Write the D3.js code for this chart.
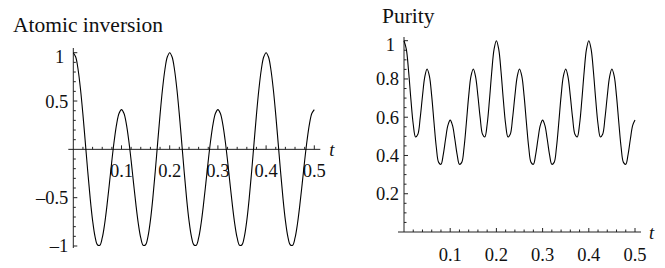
<!DOCTYPE html>
<html>
<head>
<meta charset="utf-8">
<script src="https://cdn.jsdelivr.net/npm/d3@7"></script>
<style>
  body { margin: 0; background: #fff; }
  svg text { font-family: "Liberation Serif", "Times New Roman", serif; fill: #111; }
</style>
</head>
<body>
<svg id="chart" width="665" height="268"></svg>
<script>
// sample spacing in t for both curves (0 .. 0.5)
const T_STEP = 0.005;

// atomic inversion
const inversion = [
  1, 0.955, 0.824, 0.619, 0.359, 0.067, -0.229, -0.505, -0.735, -0.900, -0.987,
  -0.992, -0.917, -0.772, -0.575, -0.349, -0.117, 0.094, 0.264, 0.373, 0.411,
  0.373, 0.264, 0.094, -0.117, -0.349, -0.575, -0.772, -0.917, -0.992, -0.987,
  -0.900, -0.735, -0.505, -0.229, 0.067, 0.359, 0.619, 0.824, 0.955, 1,
  0.955, 0.824, 0.619, 0.359, 0.067, -0.229, -0.505, -0.735, -0.900, -0.987,
  -0.992, -0.917, -0.772, -0.575, -0.349, -0.117, 0.094, 0.264, 0.373, 0.411,
  0.373, 0.264, 0.094, -0.117, -0.349, -0.575, -0.772, -0.917, -0.992, -0.987,
  -0.900, -0.735, -0.505, -0.229, 0.067, 0.359, 0.619, 0.824, 0.955, 1,
  0.955, 0.824, 0.619, 0.359, 0.067, -0.229, -0.505, -0.735, -0.900, -0.987,
  -0.992, -0.917, -0.772, -0.575, -0.349, -0.117, 0.094, 0.264, 0.373, 0.411
];

// purity
const purity = [
  1, 0.956, 0.839, 0.691, 0.563, 0.497, 0.511, 0.595, 0.711, 0.811, 0.852,
  0.815, 0.710, 0.571, 0.442, 0.364, 0.354, 0.405, 0.486, 0.557, 0.585,
  0.557, 0.486, 0.405, 0.354, 0.364, 0.442, 0.571, 0.710, 0.815, 0.852,
  0.811, 0.711, 0.595, 0.511, 0.497, 0.563, 0.691, 0.839, 0.956, 1,
  0.956, 0.839, 0.691, 0.563, 0.497, 0.511, 0.595, 0.711, 0.811, 0.852,
  0.815, 0.710, 0.571, 0.442, 0.364, 0.354, 0.405, 0.486, 0.557, 0.585,
  0.557, 0.486, 0.405, 0.354, 0.364, 0.442, 0.571, 0.710, 0.815, 0.852,
  0.811, 0.711, 0.595, 0.511, 0.497, 0.563, 0.691, 0.839, 0.956, 1,
  0.956, 0.839, 0.691, 0.563, 0.497, 0.511, 0.595, 0.711, 0.811, 0.852,
  0.815, 0.710, 0.571, 0.442, 0.364, 0.354, 0.405, 0.486, 0.557, 0.585
];

const tTicks = [0.1, 0.2, 0.3, 0.4, 0.5];
const tMinor = [0.02, 0.04, 0.06, 0.08, 0.12, 0.14, 0.16, 0.18, 0.22, 0.24, 0.26, 0.28,
                0.32, 0.34, 0.36, 0.38, 0.42, 0.44, 0.46, 0.48];
const invTicks = [-1, -0.5, 0.5, 1];
const invMinor = [-0.9, -0.8, -0.7, -0.6, -0.4, -0.3, -0.2, -0.1, 0.1, 0.2, 0.3, 0.4, 0.6, 0.7, 0.8, 0.9];
const purTicks = [0.2, 0.4, 0.6, 0.8, 1];
const purMinor = [0.05, 0.1, 0.15, 0.25, 0.3, 0.35, 0.45, 0.5, 0.55, 0.65, 0.7, 0.75, 0.85, 0.9, 0.95];

const svg = d3.select("#chart");

function fmt(v) {
    return v < 0 ? "\u2013" + String(-v) : String(v);
}

function panel(opt) {
    const x = d3.scaleLinear().domain([0, 0.5]).range(opt.xRange);
    const y = d3.scaleLinear().domain(opt.yDomain).range(opt.yRange);
    const g = svg.append("g");
    const y0 = y(opt.axisAt);

    // axis lines
    g.append("line")
        .attr("x1", x(0) - opt.xOver).attr("x2", x(0.5) + 6)
        .attr("y1", y0).attr("y2", y0)
        .attr("stroke", "#222").attr("stroke-width", 1);
    g.append("line")
        .attr("x1", x(0)).attr("x2", x(0))
        .attr("y1", opt.yTop).attr("y2", opt.yBottom)
        .attr("stroke", "#222").attr("stroke-width", 1);

    // x ticks point upward
    g.selectAll(".xmaj").data(tTicks).join("line")
        .attr("x1", d => x(d)).attr("x2", d => x(d))
        .attr("y1", y0).attr("y2", y0 - 4)
        .attr("stroke", "#222");
    g.selectAll(".xmin").data(tMinor).join("line")
        .attr("x1", d => x(d)).attr("x2", d => x(d))
        .attr("y1", y0).attr("y2", y0 - 2.5)
        .attr("stroke", "#222");
    g.selectAll(".xlab").data(tTicks).join("text")
        .attr("x", d => x(d)).attr("y", y0 + opt.xLabDy)
        .attr("text-anchor", "middle")
        .style("font-size", "18.5px")
        .text(fmt);

    // y ticks point right
    g.selectAll(".ymaj").data(opt.yTicks).join("line")
        .attr("x1", x(0)).attr("x2", x(0) + 4)
        .attr("y1", d => y(d)).attr("y2", d => y(d))
        .attr("stroke", "#222");
    g.selectAll(".ymin").data(opt.yMinor).join("line")
        .attr("x1", x(0)).attr("x2", x(0) + 2.5)
        .attr("y1", d => y(d)).attr("y2", d => y(d))
        .attr("stroke", "#222");
    g.selectAll(".ylab").data(opt.yTicks).join("text")
        .attr("x", d => x(0) - (d === 1 ? 9 : 5))
        .attr("y", d => y(d))
        .attr("dy", d => d === 1 ? "0.55em" : "0.35em")
        .attr("text-anchor", "end")
        .style("font-size", "18.5px")
        .text(fmt);

    g.append("text")
        .attr("x", x(0.5) + opt.tDx).attr("y", y0 + 7)
        .style("font-size", "18.5px").style("font-style", "italic")
        .text("t");

    g.append("text")
        .attr("x", opt.titleX).attr("y", opt.titleY)
        .style("font-size", "21.5px")
        .text(opt.title);

    const line = d3.line()
        .x((d, i) => x(i * T_STEP))
        .y(d => y(d))
        .curve(d3.curveCatmullRom.alpha(0.5));

    g.append("path")
        .datum(opt.values)
        .attr("fill", "none")
        .attr("stroke", "#000")
        .attr("stroke-width", 1.1)
        .attr("d", line);
}

panel({
    title: "Atomic inversion", titleX: 13, titleY: 32,
    values: inversion,
    xRange: [73.3, 314.3], yDomain: [-1, 1], yRange: [246, 52.7],
    axisAt: 0, xOver: 5, yTop: 48, yBottom: 248,
    yTicks: invTicks, yMinor: invMinor, xLabDy: 28, tDx: 15
});

panel({
    title: "Purity", titleX: 382, titleY: 23,
    values: purity,
    xRange: [404, 635], yDomain: [0, 1], yRange: [232, 40.7],
    axisAt: 0, xOver: 6, yTop: 37, yBottom: 232,
    yTicks: purTicks, yMinor: purMinor, xLabDy: 29, tDx: 14
});
</script>
</body>
</html>
